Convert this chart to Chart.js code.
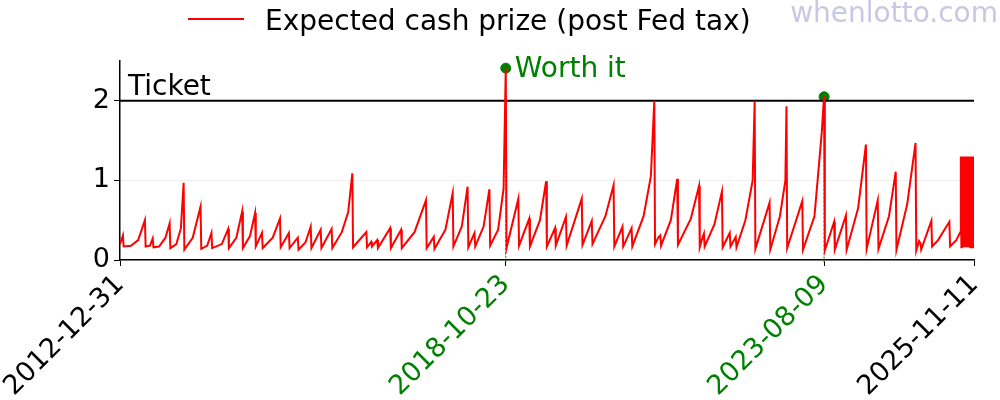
<!DOCTYPE html>
<html><head><meta charset="utf-8">
<script src="https://cdn.jsdelivr.net/npm/chart.js@4"></script>
<style>html,body{margin:0;padding:0;background:#fff}#w{width:1000px;height:400px}</style>
</head><body><div id="w"><canvas id="c"></canvas></div>
<script>
// days since 2012-12-31
const prizePoints = [
[0,0.2],[16,0.31],[20,0.17],[60,0.18],[100,0.25],[137,0.5],[141,0.17],[165,0.18],[180,0.27],[184,0.16],
[215,0.17],[250,0.28],[273,0.46],[277,0.15],[310,0.2],[335,0.4],[350,0.97],[354,0.13],[400,0.28],[443,0.67],
[447,0.14],[480,0.18],[503,0.34],[507,0.15],[560,0.2],[595,0.39],[599,0.15],[640,0.28],[672,0.61],[676,0.15],
[715,0.3],[743,0.59],[747,0.17],[781,0.34],[785,0.15],[840,0.28],[880,0.52],[884,0.16],[929,0.34],[933,0.15],
[978,0.28],[982,0.13],[1020,0.22],[1049,0.42],[1053,0.15],[1104,0.38],[1108,0.15],[1164,0.39],[1168,0.15],[1220,0.35],
[1255,0.6],[1278,1.09],[1282,0.16],[1355,0.35],[1359,0.16],[1382,0.23],[1386,0.17],[1415,0.25],[1419,0.15],[1486,0.4],
[1490,0.15],[1546,0.38],[1550,0.15],[1620,0.35],[1683,0.75],[1687,0.15],[1726,0.29],[1730,0.14],[1790,0.38],[1830,0.84],
[1834,0.17],[1880,0.42],[1912,0.92],[1916,0.16],[1950,0.34],[1954,0.17],[2000,0.42],[2032,0.89],[2036,0.18],[2080,0.38],
[2110,0.9],[2122,2.41],[2126,0.15],[2191,0.77],[2195,0.18],[2251,0.52],[2255,0.17],[2310,0.5],[2344,0.99],[2348,0.17],
[2393,0.4],[2397,0.18],[2453,0.54],[2457,0.18],[2540,0.77],[2544,0.19],[2595,0.49],[2599,0.2],[2670,0.55],[2715,0.94],
[2719,0.17],[2764,0.42],[2768,0.17],[2814,0.40],[2818,0.17],[2880,0.55],[2920,1.05],[2939,2.0],[2943,0.2],[2960,0.28],
[2972,0.31],[2976,0.18],[3030,0.5],[3065,1.02],[3069,0.19],[3140,0.52],[3185,0.93],[3189,0.16],[3200,0.25],[3212,0.33],
[3216,0.17],[3270,0.45],[3311,0.86],[3315,0.16],[3354,0.34],[3358,0.17],[3387,0.29],[3391,0.16],[3440,0.5],[3480,1.0],
[3491,1.99],[3495,0.14],[3573,0.72],[3577,0.13],[3630,0.55],[3660,1.0],[3666,1.93],[3670,0.15],[3753,0.74],[3757,0.13],
[3820,0.55],[3860,1.6],[3873,2.07],[3877,0.12],[3928,0.48],[3932,0.13],[3993,0.56],[3997,0.13],[4060,0.65],[4103,1.45],
[4107,0.14],[4168,0.75],[4172,0.14],[4230,0.55],[4267,1.11],[4271,0.13],[4330,0.7],[4376,1.47],[4380,0.12],[4395,0.24],
[4403,0.21],[4407,0.13],[4463,0.49],[4467,0.17],[4500,0.25],[4562,0.48],[4566,0.17],[4600,0.25],[4622,0.35],
[4625,1.3],[4628,0.16],[4631,1.3],[4634,0.16],[4637,1.3],[4640,0.16],[4643,1.3],[4646,0.16],[4649,1.3],[4652,0.16],
[4655,1.3],[4658,0.16],[4661,1.3],[4664,0.16],[4667,1.3],[4670,0.16],[4673,1.3],[4676,0.16],[4679,1.3],[4682,0.16],
[4685,1.3],[4688,0.16],[4691,1.3],[4694,0.16],[4697,1.3],[4698,0.16]
];
const worthDays = [2122, 3873];
const worthValues = [2.41, 2.05];
const tickDays = [0, 2122, 3873, 4698];
const tickLabels = ['2012-12-31', '2018-10-23', '2023-08-09', '2025-11-11'];
const tickColors = ['#000', 'green', 'green', '#000'];
const ticketPrice = 2;
const maxDay = 4698;

const FONT = 'DejaVu Sans';
const overlay = {
  id: 'overlay',
  beforeDatasetsDraw(ch) {
    const {ctx, scales:{x,y}} = ch;
    ctx.save();
    ctx.strokeStyle = 'green'; ctx.lineWidth = 1.2; ctx.setLineDash([1.5,2.5]);
    worthDays.forEach((d,i) => {
      const px = x.getPixelForValue(d);
      ctx.beginPath(); ctx.moveTo(px, y.getPixelForValue(worthValues[i])); ctx.lineTo(px, y.bottom + 3); ctx.stroke();
    });
    ctx.restore();
  },
  afterDraw(ch) {
    const {ctx, scales:{x,y}} = ch;
    ctx.save();
    ctx.font = '28px "' + FONT + '"';
    ctx.textBaseline = 'alphabetic';
    ctx.fillStyle = '#000';
    ctx.fillText('Ticket', x.left + 8, y.getPixelForValue(ticketPrice) - 6);
    ctx.fillStyle = 'green';
    ctx.fillText('Worth it', x.getPixelForValue(worthDays[0]) + 9, y.getPixelForValue(worthValues[0]) + 9);
    // legend
    ctx.strokeStyle = 'red'; ctx.lineWidth = 2;
    ctx.beginPath(); ctx.moveTo(188, 19); ctx.lineTo(244, 19); ctx.stroke();
    ctx.fillStyle = '#000';
    ctx.fillText('Expected cash prize (post Fed tax)', 265, 30);
    ctx.fillStyle = '#c8c8e4';
    ctx.textAlign = 'right';
    ctx.fillText('whenlotto.com', 998, 22);
    ctx.restore();
  }
};

new Chart(document.getElementById('c'), {
  type: 'line',
  data: {
    datasets: [
      { data: prizePoints.map(p => ({x:p[0], y:p[1]})), borderColor: 'red', borderWidth: 2, pointRadius: 0, tension: 0 },
      { data: [{x:0,y:ticketPrice},{x:maxDay,y:ticketPrice}], borderColor: '#000', borderWidth: 2, pointRadius: 0 },
      { type: 'scatter', data: worthDays.map((d,i)=>({x:d,y:worthValues[i]})), backgroundColor: 'green', borderColor: 'green', pointRadius: 5 }
    ]
  },
  options: {
    responsive: true, maintainAspectRatio: false, animation: false,
    layout: { padding: { top: 61, right: 20, left: 0, bottom: 0 } },
    plugins: { legend: { display: false }, tooltip: { enabled: false } },
    scales: {
      x: {
        type: 'linear', min: 0, max: maxDay,
        afterFit(s) { s.height = 140; },
        afterBuildTicks(s) { s.ticks = tickDays.map(v => ({value: v})); },
        grid: { drawOnChartArea: false, tickLength: 6, tickColor: '#000' },
        border: { color: '#000', width: 1.5 },
        ticks: {
          autoSkip: false, maxRotation: 45, minRotation: 45,
          font: { family: FONT, size: 27 },
          color: c => tickColors[c.index],
          callback: (v, i) => tickLabels[i]
        }
      },
      y: {
        min: 0, max: 2.5,
        afterFit(s) { s.width = 120; },
        afterBuildTicks(s) { s.ticks = [0,1,2].map(v => ({value: v})); },
        grid: { color: '#f0f0f0', tickLength: 6, tickColor: '#000' },
        border: { color: '#000', width: 1.5 },
        ticks: { font: { family: FONT, size: 27 }, color: '#000', padding: 4 }
      }
    }
  },
  plugins: [overlay]
});
</script></body></html>
